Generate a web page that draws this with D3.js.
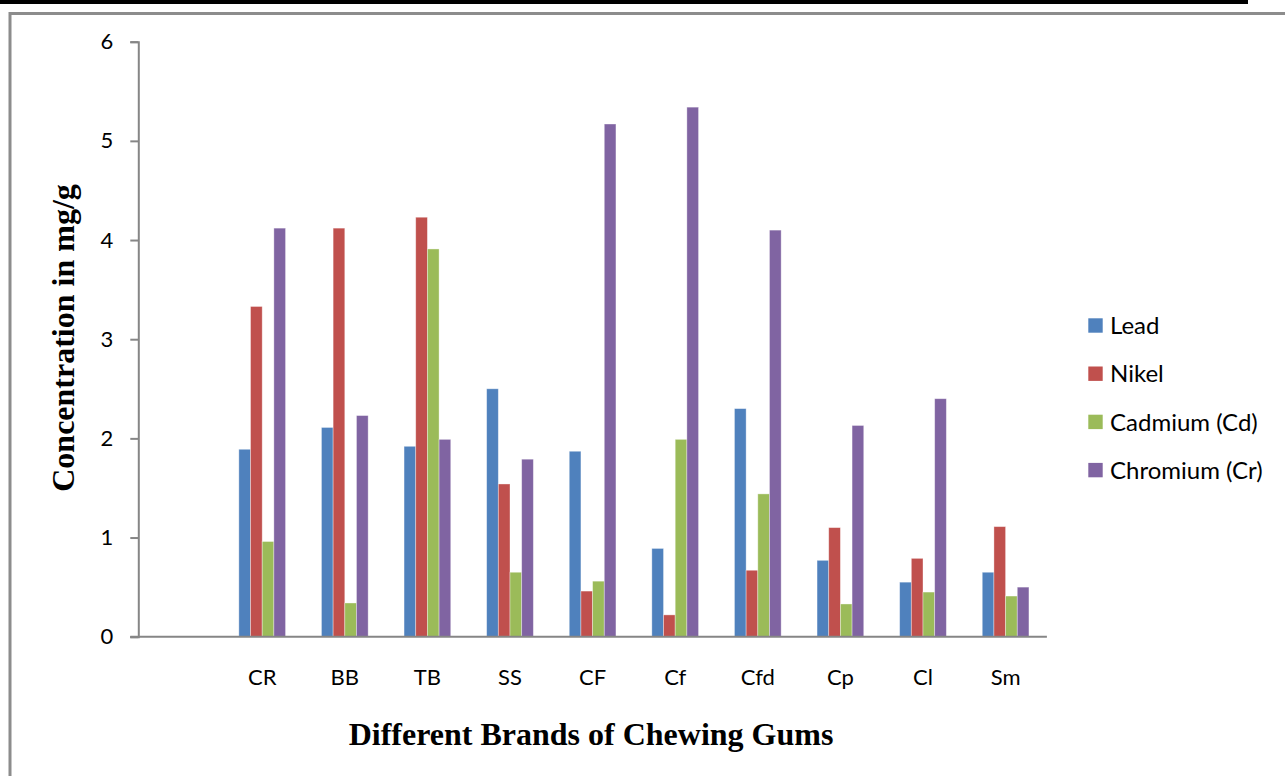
<!DOCTYPE html>
<html>
<head>
<meta charset="utf-8">
<script src="https://cdn.jsdelivr.net/npm/d3@7"></script>
<style>
  html, body { margin: 0; padding: 0; background: #fff; }
  svg { display: block; }
</style>
</head>
<body>
<svg id="chart" width="1285" height="776"></svg>
<script>
// ---- data ----
const categories = ["", "CR", "BB", "TB", "SS", "CF", "Cf", "Cfd", "Cp", "Cl", "Sm"];
const seriesNames = ["Lead", "Nikel", "Cadmium (Cd)", "Chromium (Cr)"];
const lead     = [null, 1.89, 2.11, 1.92, 2.50, 1.87, 0.89, 2.30, 0.77, 0.55, 0.65];
const nikel    = [null, 3.33, 4.12, 4.23, 1.54, 0.46, 0.22, 0.67, 1.10, 0.79, 1.11];
const cadmium  = [null, 0.96, 0.34, 3.91, 0.65, 0.56, 1.99, 1.44, 0.33, 0.45, 0.41];
const chromium = [null, 4.12, 2.23, 1.99, 1.79, 5.17, 5.34, 4.10, 2.13, 2.40, 0.50];
const yTicks = [0, 1, 2, 3, 4, 5, 6];
const colors = ["#4F81BD", "#C0504D", "#9BBB59", "#8064A2"];

const seriesValues = [lead, nikel, cadmium, chromium];

const svg = d3.select("#chart");

// top black band and frame
svg.append("rect").attr("x", 0).attr("y", 0).attr("width", 1248).attr("height", 4).attr("fill", "#000");
svg.append("rect").attr("x", 10).attr("y", 13.5).attr("width", 1300).attr("height", 800)
  .attr("fill", "none").attr("stroke", "#8c8c8c").attr("stroke-width", 3);

// scales
const plotLeft = 138.3, plotRight = 1046.9, plotTop = 41.7, plotBottom = 636.7;
const x0 = d3.scaleBand().domain(categories.map((c, i) => i)).range([plotLeft, plotRight]).paddingInner(0).paddingOuter(0);
const groupW = 46.7;
const x1 = d3.scaleBand().domain(d3.range(seriesNames.length)).range([0, groupW]).padding(0);
const y = d3.scaleLinear().domain([0, 6]).range([plotBottom, plotTop]);

// bars
const g = svg.append("g");
categories.forEach((cat, ci) => {
  const gx = x0(ci) + (x0.bandwidth() - groupW) / 2;
  seriesValues.forEach((vals, si) => {
    const v = vals[ci];
    if (v == null) return;
    g.append("rect")
      .attr("x", gx + x1(si))
      .attr("y", y(v))
      .attr("width", x1.bandwidth())
      .attr("height", y(0) - y(v))
      .attr("fill", colors[si])
      .attr("stroke", "rgba(255,255,255,0.45)")
      .attr("stroke-width", 0.8);
  });
});

// y axis
const yAxis = d3.axisLeft(y).tickValues(yTicks).tickSize(8).tickPadding(17).tickFormat(d3.format("d"));
const ya = svg.append("g").attr("transform", `translate(${plotLeft},0)`).call(yAxis);
ya.select(".domain").attr("stroke", "#868686").attr("stroke-width", 2);
ya.selectAll(".tick line").attr("stroke", "#868686").attr("stroke-width", 2);
ya.selectAll(".tick text").attr("font-family", "Lato, 'Open Sans', sans-serif").attr("font-size", 22).attr("fill", "#000");

// x axis
const xAxis = d3.axisBottom(x0).tickSize(0).tickPadding(33).tickFormat(i => categories[i]);
const xa = svg.append("g").attr("transform", `translate(0,${plotBottom})`).call(xAxis);
xa.select(".domain").remove();
svg.append("line").attr("x1", plotLeft - 8).attr("x2", plotRight).attr("y1", plotBottom).attr("y2", plotBottom)
  .attr("stroke", "#868686").attr("stroke-width", 2);
xa.selectAll(".tick text").attr("font-family", "Lato, 'Open Sans', sans-serif").attr("font-size", 22).attr("fill", "#000");

// axis titles
svg.append("text")
  .attr("x", 591).attr("y", 745)
  .attr("text-anchor", "middle")
  .attr("font-family", "'Liberation Serif', 'Times New Roman', serif")
  .attr("font-weight", "bold").attr("font-size", 32)
  .text("Different Brands of Chewing Gums");
svg.append("text")
  .attr("transform", "translate(74,338) rotate(-90)")
  .attr("text-anchor", "middle")
  .attr("font-family", "'Liberation Serif', 'Times New Roman', serif")
  .attr("font-weight", "bold").attr("font-size", 32)
  .text("Concentration in mg/g");

// legend
const legend = svg.append("g");
seriesNames.forEach((name, i) => {
  const cy = 325.5 + i * 48.2;
  legend.append("rect").attr("x", 1088.3).attr("y", cy - 7.2).attr("width", 14.4).attr("height", 14.4).attr("fill", colors[i]);
  legend.append("text").attr("x", 1110).attr("y", cy).attr("dy", "0.36em")
    .attr("font-family", "Lato, 'Open Sans', sans-serif").attr("font-size", 24).attr("fill", "#000")
    .text(name);
});
</script>
</body>
</html>
